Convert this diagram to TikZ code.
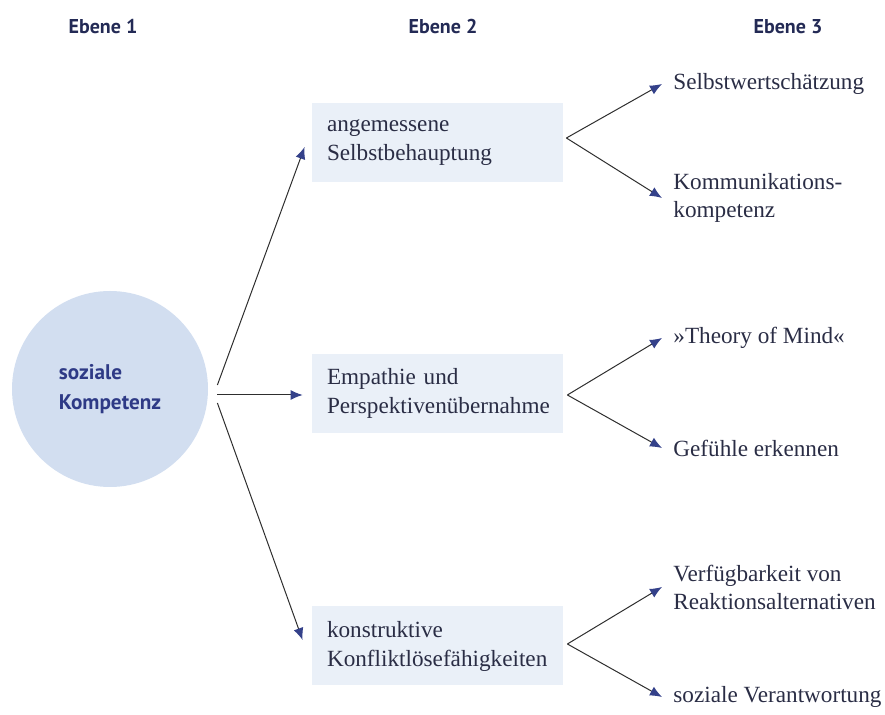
\documentclass[tikz,border=0pt]{standalone}
\usepackage{fontspec}
\setmainfont{Liberation Serif}
\newfontfamily\hdrfont{PT Sans}
\usetikzlibrary{arrows.meta}
\definecolor{hdrnavy}{HTML}{232A55}
\definecolor{circtext}{HTML}{2E3A86}
\definecolor{circfill}{HTML}{D2DEF0}
\definecolor{boxfill}{HTML}{EAF0F8}
\definecolor{tipblue}{HTML}{34418A}
\definecolor{linegray}{HTML}{2E2E2E}
\definecolor{bodytext}{HTML}{2A2D45}
\tikzset{
  header/.style={font=\hdrfont\bfseries\fontsize{10}{12}\selectfont, text=hdrnavy, inner sep=0pt},
  hub/.style={circle, fill=circfill, minimum size=98pt, inner sep=0pt, align=left,
    font=\hdrfont\bfseries\fontsize{10.6}{15}\selectfont, text=circtext},
  levelbox/.style={rectangle, fill=boxfill, minimum width=125.5pt, minimum height=39.5pt,
    inner xsep=7.5pt, text width=110.5pt, align=left,
    font=\fontsize{11.6}{14.5}\selectfont, text=bodytext},
  leaf/.style={anchor=west, inner sep=0pt, align=left,
    font=\fontsize{11.6}{14}\selectfont, text=bodytext},
  link/.style={draw=linegray, line width=0.5pt, -{Latex[length=6pt,width=5pt,color=tipblue]}}
}
\begin{document}
\begin{tikzpicture}[x=0.5pt,y=-0.5pt]
\path[use as bounding box] (0,0) rectangle (885,715);

% headers
\node[header] (h1) at (103,27) {Ebene 1};
\node[header] (h2) at (443,27) {Ebene 2};
\node[header] (h3) at (788,27) {Ebene 3};

% hub
\node[hub] (sk) at (110,389) {soziale\\Kompetenz};

% level 2 boxes
\node[levelbox] (b1) at (437.5,142.5) {angemessene\\Selbstbehauptung};
\node[levelbox] (b2) at (437.5,393.5) {Empathie und\\Perspektivenübernahme};
\node[levelbox] (b3) at (437.5,646) {konstruktive\\Konfliktlösefähigkeiten};

% level 3 texts
\node[leaf] (t1) at (673,84) {Selbstwertschätzung};
\node[leaf] (t2) at (673,198) {Kommunikations-\\kompetenz};
\node[leaf] (t3) at (673,338) {»Theory of Mind«};
\node[leaf] (t4) at (673,448) {Gefühle erkennen};
\node[leaf] (t5) at (673,587) {Verfügbarkeit von\\Reaktionsalternativen};
\node[leaf] (t6) at (673,697) {soziale Verantwortung};

% origins
\coordinate (o1) at ([shift={(4.5pt,2pt)}]sk.east);
\coordinate (o2) at ([shift={(4.5pt,-3pt)}]sk.east);
\coordinate (o3) at ([shift={(4.5pt,-7pt)}]sk.east);
\coordinate (r1) at ([shift={(1.5pt,2.25pt)}]b1.east);
\coordinate (r2) at ([shift={(2pt,-0.75pt)}]b2.east);
\coordinate (r3) at ([shift={(2pt,1pt)}]b3.east);

% level 1 -> 2
\draw[link] (o1) -- ([shift={(-3.5pt,-2.25pt)}]b1.west);
\draw[link] (o2) -- ([shift={(-4.5pt,-0.75pt)}]b2.west);
\draw[link] (o3) -- ([shift={(-4.5pt,3pt)}]b3.west);

% level 2 -> 3
\draw[link] (r1) -- ([xshift=-5.5pt]t1.west);
\draw[link] (r1) -- ([xshift=-5.5pt]t2.west);
\draw[link] (r2) -- ([xshift=-5.5pt]t3.west);
\draw[link] (r2) -- ([xshift=-5.5pt]t4.west);
\draw[link] (r3) -- ([xshift=-5.5pt]t5.west);
\draw[link] (r3) -- ([xshift=-5.5pt]t6.west);
\end{tikzpicture}
\end{document}
